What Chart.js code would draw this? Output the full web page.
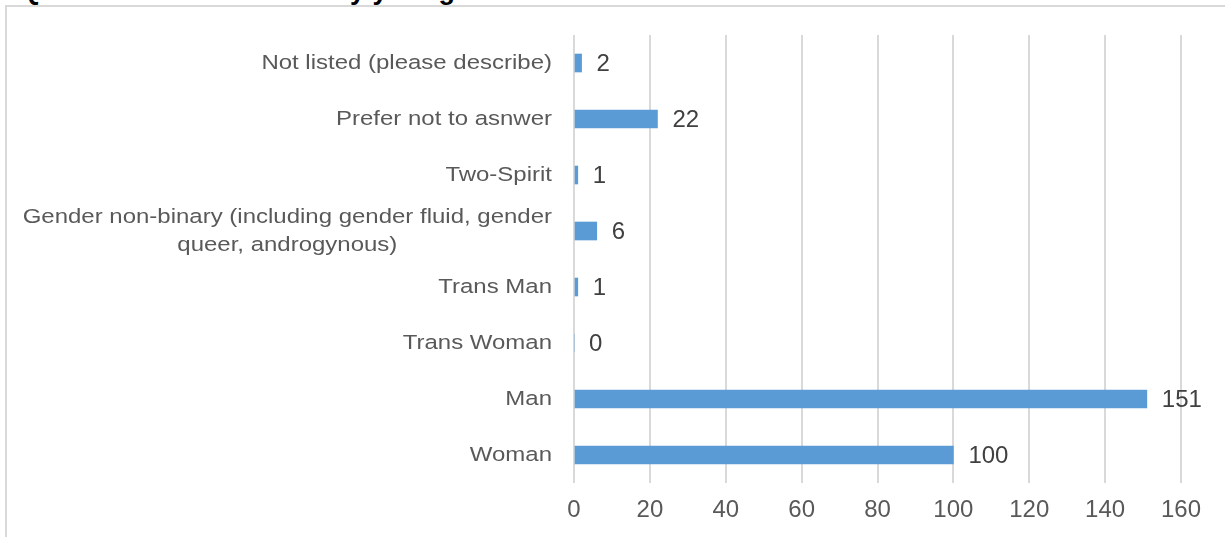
<!DOCTYPE html>
<html>
<head>
<meta charset="utf-8">
<script src="https://cdn.jsdelivr.net/npm/chart.js@4"></script>
<style>
  html, body { margin: 0; padding: 0; background: #fff; overflow: hidden; }
  #wrap { position: relative; width: 1225px; height: 537px; }
  #frame { position: absolute; left: 5px; top: 5px; width: 1230px; height: 540px; border: 2px solid #d9d9d9; box-sizing: border-box; }
  #title { position: absolute; left: 20px; top: -25px; font: bold 27px "Liberation Sans", Arial, sans-serif; color: #000; white-space: nowrap; }
  canvas { position: absolute; left: 0; top: 0; }
</style>
</head>
<body>
<div id="wrap">
  <div id="title">Question 4: Please identify your gender</div>
  <div id="frame"></div>
  <canvas id="chart" width="1225" height="537"></canvas>
</div>
<script>
const categories = [
  "Not listed (please describe)",
  "Prefer not to asnwer",
  "Two-Spirit",
  ["Gender non-binary (including gender fluid, gender", "queer, androgynous)"],
  "Trans Man",
  "Trans Woman",
  "Man",
  "Woman"
];
const counts = [2, 22, 1, 6, 1, 0, 151, 100];
const xTicks = [0, 20, 40, 60, 80, 100, 120, 140, 160];

const FONT = '"Liberation Sans", Arial, sans-serif';

// category labels: right edge at the axis, extra lines centred under the first
// (the original text is a bit wider than Arial, so stretch it horizontally)
const catLabels = {
  id: "catLabels",
  afterDraw(chart) {
    const ctx = chart.ctx;
    const y = chart.scales.y;
    const right = chart.chartArea.left - 22;
    const sx = 1.17;
    ctx.save();
    ctx.font = "20.5px " + FONT;
    ctx.fillStyle = "#595959";
    ctx.textAlign = "center";
    ctx.textBaseline = "middle";
    categories.forEach((c, i) => {
      const lines = Array.isArray(c) ? c : [c];
      const w = Math.max(...lines.map(l => ctx.measureText(l).width)) * sx;
      const cy = y.getPixelForValue(i);
      const lh = 28;
      lines.forEach((l, j) => {
        ctx.save();
        ctx.translate(right - w / 2, cy + (j - (lines.length - 1) / 2) * lh);
        ctx.scale(sx, 1);
        ctx.fillText(l, 0, 0);
        ctx.restore();
      });
    });
    ctx.restore();
  }
};

// value labels at the end of each bar
const valueLabels = {
  id: "valueLabels",
  afterDatasetsDraw(chart) {
    const ctx = chart.ctx;
    const meta = chart.getDatasetMeta(0);
    ctx.save();
    ctx.font = "24px " + FONT;
    ctx.fillStyle = "#404040";
    ctx.textAlign = "left";
    ctx.textBaseline = "middle";
    meta.data.forEach((bar, i) => {
      ctx.fillText(String(counts[i]), bar.x + 15, bar.y + 1);
    });
    ctx.restore();
  }
};

new Chart(document.getElementById("chart"), {
  type: "bar",
  data: {
    labels: categories,
    datasets: [{
      data: counts,
      backgroundColor: "#5b9bd5",
      borderWidth: 0,
      barThickness: 18
    }]
  },
  options: {
    indexAxis: "y",
    responsive: false,
    animation: false,
    layout: { padding: { left: 0, top: 35, right: 44, bottom: 0 } },
    plugins: {
      legend: { display: false },
      tooltip: { enabled: false }
    },
    scales: {
      x: {
        min: 0,
        max: 160,
        afterBuildTicks(s) { s.ticks = xTicks.map(v => ({ value: v })); },
        afterFit(s) { s.height = 54; },
        grid: { color: "#d9d9d9", lineWidth: 2, drawTicks: false },
        border: { display: false },
        ticks: { padding: 13, color: "#595959", font: { family: FONT, size: 24 } }
      },
      y: {
        afterFit(s) { s.width = 574; },
        grid: { display: false },
        border: { display: false },
        ticks: { display: false }
      }
    }
  },
  plugins: [catLabels, valueLabels]
});
</script>
</body>
</html>
